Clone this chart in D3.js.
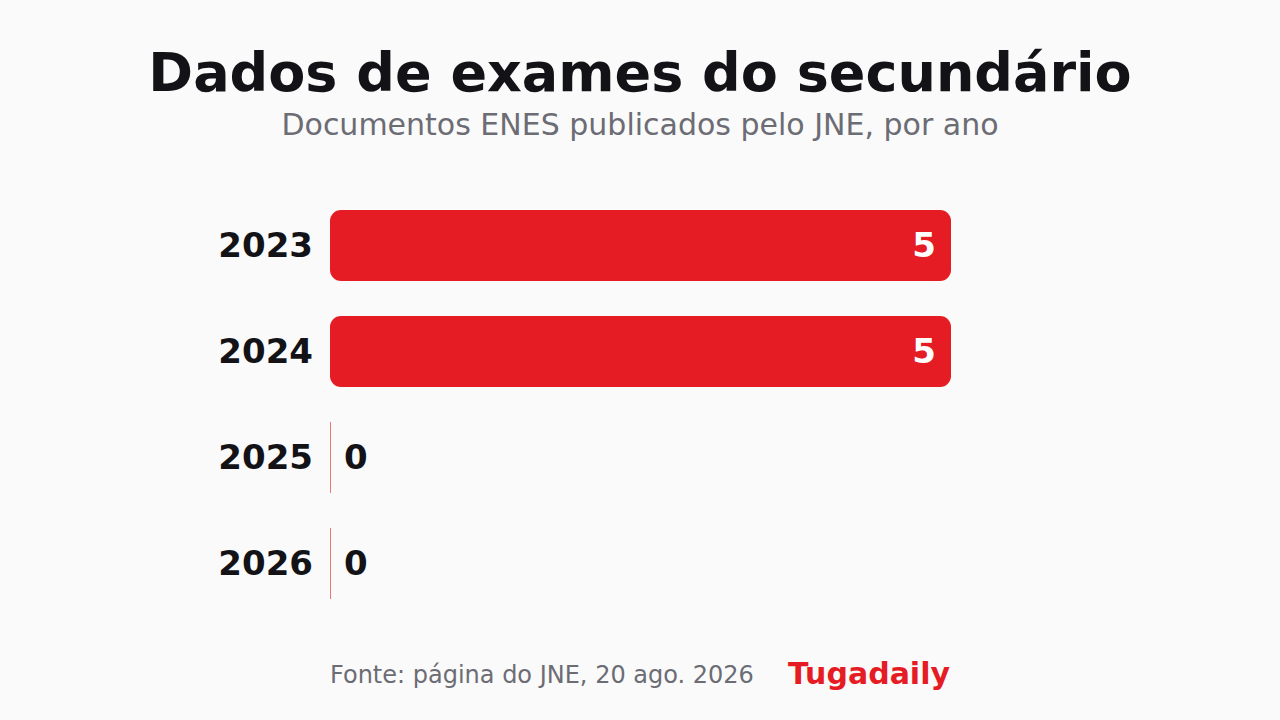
<!DOCTYPE html>
<html>
<head>
<meta charset="utf-8">
<script src="https://cdn.jsdelivr.net/npm/d3@7"></script>
<style>
  body { margin: 0; background: #fafafa; }
  svg { display: block; font-family: "DejaVu Sans", sans-serif; }
</style>
</head>
<body>
<div class="chart"></div>
<script>
var years = [`2023`, `2024`, `2025`, `2026`];
var documentos = [5, 5, 0, 0];

var width = 1280;
var height = 720;
var red = `#e51c23`;
var ink = `#131317`;
var grey = `#6c6c74`;

var data = years.map((y, i) => ({year: y, value: documentos[i]}));

var svg = d3.select(`.chart`)
    .append(`svg`)
    .attr(`width`, width)
    .attr(`height`, height)
    .style(`background`, `#fafafa`);

svg.append(`text`)
    .attr(`x`, width / 2)
    .attr(`y`, 91)
    .attr(`text-anchor`, `middle`)
    .style(`font-size`, `54px`)
    .style(`font-weight`, `bold`)
    .style(`fill`, ink)
    .text(`Dados de exames do secundário`);

svg.append(`text`)
    .attr(`x`, width / 2)
    .attr(`y`, 135)
    .attr(`text-anchor`, `middle`)
    .style(`font-size`, `30px`)
    .style(`fill`, grey)
    .text(`Documentos ENES publicados pelo JNE, por ano`);

var xScale = d3.scaleLinear()
    .domain([0, 5])
    .range([330, 951]);

var yScale = d3.scaleBand()
    .domain(years)
    .range([210, 598])
    .paddingInner(0.34)
    .paddingOuter(0);

var rows = svg.selectAll(`g.row`)
    .data(data)
    .enter()
    .append(`g`)
    .attr(`class`, `row`);

rows.filter(d => d.value > 0)
    .append(`rect`)
    .attr(`x`, xScale(0))
    .attr(`y`, d => yScale(d.year))
    .attr(`width`, d => xScale(d.value) - xScale(0))
    .attr(`height`, yScale.bandwidth() + 1)
    .attr(`rx`, 11)
    .style(`fill`, red);

rows.filter(d => d.value === 0)
    .append(`line`)
    .attr(`x1`, xScale(0) + 0.5)
    .attr(`x2`, xScale(0) + 0.5)
    .attr(`y1`, d => yScale(d.year))
    .attr(`y2`, d => yScale(d.year) + yScale.bandwidth() + 1)
    .style(`stroke`, red)
    .style(`stroke-opacity`, 0.6)
    .style(`stroke-width`, 1);

rows.append(`text`)
    .attr(`x`, xScale(0) - 17)
    .attr(`y`, d => yScale(d.year) + yScale.bandwidth() / 2)
    .attr(`dy`, `0.36em`)
    .attr(`text-anchor`, `end`)
    .style(`font-size`, `34px`)
    .style(`font-weight`, `bold`)
    .style(`fill`, ink)
    .text(d => d.year);

rows.append(`text`)
    .attr(`x`, d => d.value > 0 ? xScale(d.value) - 15 : xScale(0) + 14)
    .attr(`y`, d => yScale(d.year) + yScale.bandwidth() / 2)
    .attr(`dy`, `0.36em`)
    .attr(`text-anchor`, d => d.value > 0 ? `end` : `start`)
    .style(`font-size`, `34px`)
    .style(`font-weight`, `bold`)
    .style(`fill`, d => d.value > 0 ? `#ffffff` : ink)
    .text(d => d.value);

svg.append(`text`)
    .attr(`x`, 330)
    .attr(`y`, 683)
    .style(`font-size`, `24px`)
    .style(`fill`, grey)
    .text(`Fonte: página do JNE, 20 ago. 2026`);

svg.append(`text`)
    .attr(`x`, 950)
    .attr(`y`, 684)
    .attr(`text-anchor`, `end`)
    .style(`font-size`, `30px`)
    .style(`font-weight`, `bold`)
    .style(`fill`, red)
    .text(`Tugadaily`);
</script>
</body>
</html>
